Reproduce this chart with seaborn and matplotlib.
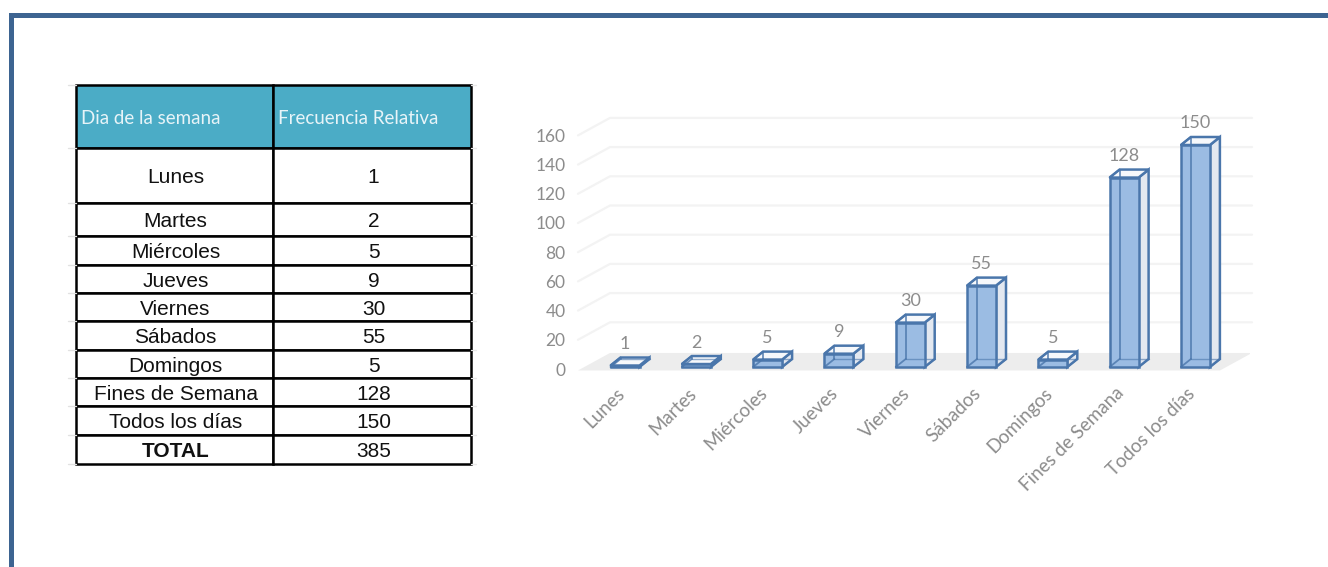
import matplotlib
matplotlib.use("Agg")
import matplotlib.pyplot as plt
import pandas as pd
import seaborn as sns
from matplotlib.patches import Polygon, Rectangle
from matplotlib.transforms import ScaledTranslation

dias = ["Lunes", "Martes", "Miércoles", "Jueves", "Viernes", "Sábados", "Domingos",
        "Fines de Semana", "Todos los días"]
frecuencia = [1, 2, 5, 9, 30, 55, 5, 128, 150]
total_label = "TOTAL"
total_value = 385
col_labels = ["Dia de la semana", "Frecuencia Relativa"]
y_ticks = [0, 20, 40, 60, 80, 100, 120, 140, 160]

W, H = 1328, 567
BLUE_EDGE = "#4a76ab"
GREY = "#8c8c8c"

sns.set_theme(style="white")
plt.rcParams["font.family"] = ["Lato", "DejaVu Sans"]

df = pd.DataFrame({"dia": dias, "frecuencia": frecuencia})

fig = plt.figure(figsize=(W / 100, H / 100), dpi=100, facecolor="white")


def axes_px(left, top, right, bottom):
    return fig.add_axes([left / W, 1 - bottom / H, (right - left) / W, (bottom - top) / H])


# outer frame
fig.add_artist(Rectangle((9 / W, 0), 5 / W, 1 - 13 / H, transform=fig.transFigure, color="#3d6491", lw=0))
fig.add_artist(Rectangle((9 / W, 1 - 18 / H), 1 - 9 / W, 5 / H, transform=fig.transFigure, color="#3d6491", lw=0))

# --- table ---
row_edges = [85, 148, 203, 236, 265, 293, 321, 350, 378, 406, 435, 464]
ax_t = axes_px(76, 85, 471, 464)
ax_t.axis("off")
ax_t.set_xlim(76, 471)
ax_t.set_ylim(464, 85)
rows = [[d, str(f)] for d, f in zip(dias, frecuencia)] + [[total_label, str(total_value)]]
all_rows = [col_labels] + rows
tbl = ax_t.table(cellText=[["", ""] for _ in all_rows], bbox=[0, 0, 1, 1])
for (r, c), cell in tbl.get_celld().items():
    cell.set_height(row_edges[r + 1] - row_edges[r])
    cell.set_width(197 if c == 0 else 198)
    cell.set_edgecolor("black")
    cell.set_linewidth(1.8)
    if r == 0:
        cell.set_facecolor("#4bacc6")

for r, row in enumerate(all_rows):
    mid = (row_edges[r] + row_edges[r + 1]) / 2
    if r == 0:
        ax_t.text(81, mid + 2, row[0], color="#e8f4f8", family="Lato", fontsize=13.5, ha="left", va="center")
        ax_t.text(278, mid + 2, row[1], color="#e8f4f8", family="Lato", fontsize=13.5, ha="left", va="center")
        continue
    weight = "bold" if r == len(all_rows) - 1 else "normal"
    ax_t.text(175.5, mid + 2.2, row[0], color="#111111", family="Liberation Sans", fontsize=15,
              ha="center", va="center", fontweight=weight)
    ax_t.text(373.5, mid + 2.2, row[1], color="#111111", family="Liberation Sans", fontsize=15,
              ha="center", va="center")

# faint row marks outside the table
for y in row_edges:
    fig.add_artist(plt.Line2D([68 / W, 76 / W], [1 - y / H] * 2, color="#e2e2e2", lw=1))
    fig.add_artist(plt.Line2D([471 / W, 476 / W], [1 - y / H] * 2, color="#e8e8e8", lw=1))

# --- chart ---
AX_L, AX_T, AX_R, AX_B = 578, 100, 1250, 372
X0_PX, STEP_PX = 625, 71.3
xlim = ((AX_L - X0_PX) / STEP_PX, (AX_R - X0_PX) / STEP_PX)

# value axis and walls
Y0_PX, UNIT_PX = 369, 1.46
ax = axes_px(AX_L, AX_T, AX_R, AX_B)
ax.patch.set_alpha(0)
ax.set_xlim(xlim)
ax.set_ylim((Y0_PX - AX_B) / UNIT_PX, (Y0_PX - AX_T) / UNIT_PX)

wall_dx, wall_dy = 32 / STEP_PX, 17.5 / UNIT_PX
x_left = xlim[0]
x_right = (1220 - X0_PX) / STEP_PX
for v in y_ticks[1:]:
    ax.plot([x_left, x_left + wall_dx, x_right + wall_dx], [v, v + wall_dy, v + wall_dy],
            color="#f3f3f3", lw=1.6, zorder=1, clip_on=False)
ax.add_patch(Polygon([(x_left, -1), (x_right, -1), (x_right + wall_dx, wall_dy - 1), (x_left + wall_dx, wall_dy - 1)],
                     closed=True, facecolor="#ededed", edgecolor="none", zorder=1))

sns.despine(ax=ax, left=True, bottom=True)
ax.set_yticks(y_ticks)
ax.set_xticks(range(len(dias)))
ax.set_xticklabels(dias, rotation=45, ha="right", rotation_mode="anchor", color=GREY, fontsize=13.5)
ax.tick_params(axis="x", length=0, pad=9)
ax.tick_params(axis="y", length=0, pad=9, labelsize=12.5, labelcolor=GREY)
ax.grid(False)
shift = ScaledTranslation(-9 / 100, 0, fig.dpi_scale_trans)
for lab in ax.get_xticklabels():
    lab.set_transform(lab.get_transform() + shift)

# bars sit a little inside the floor, on their own slightly taller scale
BAR_Y0_PX, BAR_UNIT_PX = 367, 1.48
ax_b = axes_px(AX_L, AX_T, AX_R, AX_B)
ax_b.patch.set_alpha(0)
sns.barplot(data=df, x="dia", y="frecuencia", ax=ax_b, color="#9bbce3", saturation=1,
            width=29 / STEP_PX, edgecolor=BLUE_EDGE, linewidth=1.8, zorder=5)
ax_b.set_xlim(xlim)
ax_b.set_ylim((BAR_Y0_PX - AX_B) / BAR_UNIT_PX, (BAR_Y0_PX - AX_T) / BAR_UNIT_PX)
ax_b.axis("off")

bar_dx, bar_dy = 10 / STEP_PX, 8 / BAR_UNIT_PX
for patch, val in zip(list(ax_b.patches), frecuencia):
    x0, w = patch.get_x(), patch.get_width()
    y0, y1 = patch.get_y(), patch.get_y() + patch.get_height()
    x1 = x0 + w
    ax_b.add_patch(Polygon([(x0, y0), (x0 + bar_dx, y0 + bar_dy), (x1 + bar_dx, y0 + bar_dy), (x1, y0)],
                           closed=True, facecolor="#7ea6d8", edgecolor=BLUE_EDGE, lw=1.2, zorder=3.5))
    ax_b.add_patch(Polygon([(x1, y0), (x1 + bar_dx, y0 + bar_dy), (x1 + bar_dx, y1 + bar_dy), (x1, y1)],
                           closed=True, facecolor="#e3e8f0", edgecolor=BLUE_EDGE, lw=1.8, zorder=4))
    ax_b.add_patch(Polygon([(x0, y1), (x1, y1), (x1 + bar_dx, y1 + bar_dy), (x0 + bar_dx, y1 + bar_dy)],
                           closed=True, facecolor="#f6f8fb", edgecolor=BLUE_EDGE, lw=1.8, zorder=4.5))
    # back edges that show through the front
    ax_b.plot([x0 + bar_dx, x0 + bar_dx], [y0 + bar_dy, y1 + bar_dy], color=BLUE_EDGE, lw=1.3, alpha=0.8, zorder=6)
    ax_b.plot([x0, x0 + bar_dx], [y1, y1 + bar_dy], color=BLUE_EDGE, lw=1.3, zorder=6)
    ax_b.plot([x0, x0 + bar_dx], [y0, y0 + bar_dy], color=BLUE_EDGE, lw=1.3, alpha=0.8, zorder=6)
    ax_b.plot([x0 + bar_dx, x1 + bar_dx], [y0 + bar_dy, y0 + bar_dy], color=BLUE_EDGE, lw=1.0, alpha=0.6, zorder=6)
    ax_b.annotate(str(val), (x0 + w / 2, y1), xytext=(0, 15.5), textcoords="offset points",
                  ha="center", va="center", fontsize=13, color=GREY, zorder=7, annotation_clip=False)

fig.savefig("out.png", dpi=100)
